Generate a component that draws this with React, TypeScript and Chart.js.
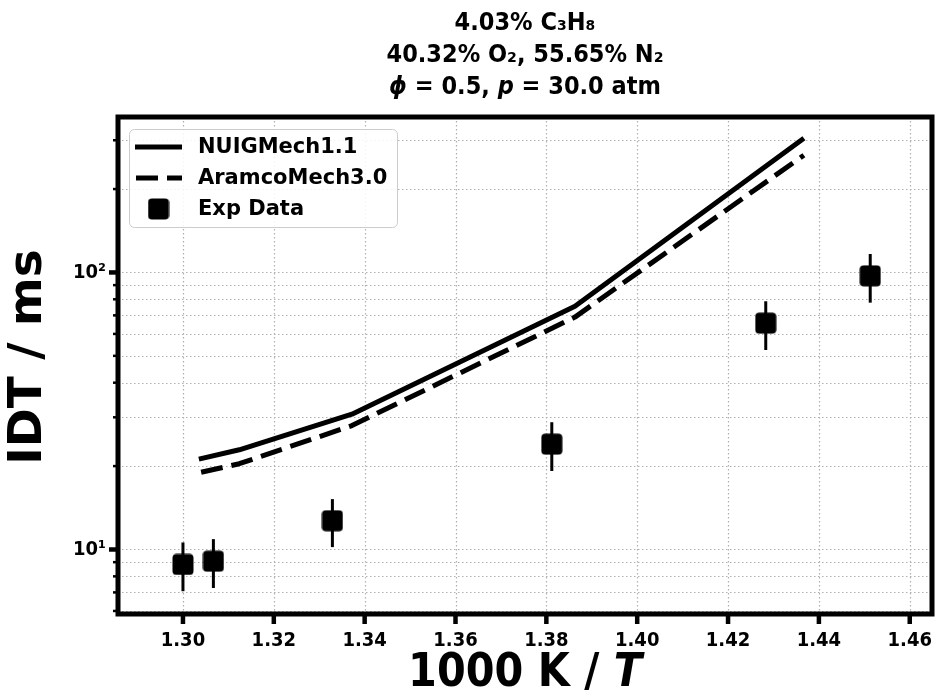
import React, { useEffect, useRef } from "react";
import { Chart, registerables } from "chart.js";

Chart.register(...registerables);

// ---- data ----
const nuigX = [1.3035, 1.3124, 1.3372, 1.3863, 1.4367];
const nuigY = [21.2, 22.9, 30.8, 75.5, 305];
const aramcoX = [1.304, 1.3124, 1.3372, 1.3863, 1.4367];
const aramcoY = [19.0, 20.4, 28.0, 69.0, 265];
const expX = [1.3, 1.3067, 1.3329, 1.3812, 1.4283, 1.4513];
const expY = [8.83, 9.07, 12.7, 24.0, 65.6, 97.2];
const expLow = [7.07, 7.26, 10.2, 19.2, 52.5, 77.8];
const expHigh = [10.6, 10.9, 15.2, 28.8, 78.7, 116.6];
const xTicks = [1.3, 1.32, 1.34, 1.36, 1.38, 1.4, 1.42, 1.44, 1.46];
const yTicks = [6, 7, 8, 9, 10, 20, 30, 40, 50, 60, 70, 80, 90, 100, 200, 300];
const yMajor = [10, 100];
const yMajorLabels = ["10\u00b9", "10\u00b2"];
const seriesNames = ["NUIGMech1.1", "AramcoMech3.0", "Exp Data"];
const titleLine1 = [{ t: "4.03% C\u2083H\u2088", i: false }];
const titleLine2 = [{ t: "40.32% O\u2082, 55.65% N\u2082", i: false }];
const titleLine3 = [
  { t: "\u03d5", i: true },
  { t: " = 0.5, ", i: false },
  { t: "p", i: true },
  { t: " = 30.0 atm", i: false },
];
const xTitle = [
  { t: "1000 K / ", i: false },
  { t: "T", i: true },
];
const yTitle = "IDT / ms";

const X_MIN = 1.2857;
const X_MAX = 1.4649;
const Y_MIN = 5.85;
const Y_MAX = 364;

const FONT = "'DejaVu Sans', sans-serif";
const CFONT = "'DejaVu Sans Condensed', 'DejaVu Sans', sans-serif";

function drawRich(
  ctx: CanvasRenderingContext2D,
  segs: { t: string; i: boolean }[],
  cx: number,
  cy: number,
  size: number,
  family: string
) {
  let total = 0;
  const widths = segs.map((s) => {
    ctx.font = `${s.i ? "italic " : ""}bold ${size}px ${family}`;
    const w = ctx.measureText(s.t).width;
    total += w;
    return w;
  });
  let x = cx - total / 2;
  ctx.textBaseline = "middle";
  ctx.textAlign = "left";
  segs.forEach((s, k) => {
    ctx.font = `${s.i ? "italic " : ""}bold ${size}px ${family}`;
    ctx.fillText(s.t, x, cy);
    x += widths[k];
  });
}

function makeMarker(size: number) {
  const c = document.createElement("canvas");
  c.width = size;
  c.height = size;
  const g = c.getContext("2d")!;
  g.fillStyle = "#000";
  g.beginPath();
  (g as any).roundRect(0.5, 0.5, size - 1, size - 1, 4);
  g.fill();
  return c;
}

export default function App() {
  const ref = useRef<HTMLCanvasElement>(null);
  useEffect(() => {
    document.body.style.margin = "0";
    const canvas = ref.current!;
    const marker = makeMarker(22);

    const customPlugin = {
      id: "custom",
      beforeDatasetsDraw(chart: any) {
        const ctx = chart.ctx as CanvasRenderingContext2D;
        const a = chart.chartArea;
        const xs = chart.scales.x;
        const ys = chart.scales.y;
        ctx.save();
        ctx.strokeStyle = "#b0b0b0";
        ctx.lineWidth = 1.2;
        ctx.setLineDash([1.5, 2.5]);
        xTicks.forEach((v) => {
          const px = Math.round(xs.getPixelForValue(v)) + 0.5;
          ctx.beginPath();
          ctx.moveTo(px, a.top);
          ctx.lineTo(px, a.bottom);
          ctx.stroke();
        });
        yTicks.forEach((v) => {
          const py = Math.round(ys.getPixelForValue(v)) + 0.5;
          ctx.beginPath();
          ctx.moveTo(a.left, py);
          ctx.lineTo(a.right, py);
          ctx.stroke();
        });
        ctx.setLineDash([]);
        // error bars
        ctx.strokeStyle = "#000";
        ctx.lineWidth = 3;
        expX.forEach((x, k) => {
          const px = xs.getPixelForValue(x);
          ctx.beginPath();
          ctx.moveTo(px, ys.getPixelForValue(expLow[k]));
          ctx.lineTo(px, ys.getPixelForValue(expHigh[k]));
          ctx.stroke();
        });
        ctx.restore();
      },
      afterDraw(chart: any) {
        const ctx = chart.ctx as CanvasRenderingContext2D;
        const a = chart.chartArea;
        const xs = chart.scales.x;
        const ys = chart.scales.y;
        ctx.save();
        // frame
        ctx.strokeStyle = "#000";
        ctx.lineWidth = 5;
        ctx.lineJoin = "miter";
        ctx.strokeRect(a.left, a.top, a.right - a.left, a.bottom - a.top);
        // x ticks
        ctx.lineWidth = 4.5;
        xTicks.forEach((v) => {
          const px = xs.getPixelForValue(v);
          ctx.beginPath();
          ctx.moveTo(px, a.bottom);
          ctx.lineTo(px, a.bottom + 10);
          ctx.stroke();
        });
        // y ticks
        yTicks.forEach((v) => {
          const py = ys.getPixelForValue(v);
          const major = yMajor.includes(v);
          ctx.lineWidth = major ? 4.5 : 2.5;
          ctx.beginPath();
          ctx.moveTo(a.left, py);
          ctx.lineTo(a.left - (major ? 9 : 5), py);
          ctx.stroke();
        });
        ctx.fillStyle = "#000";
        const cx = (a.left + a.right) / 2;
        drawRich(ctx, titleLine1, cx, 23, 25, CFONT);
        drawRich(ctx, titleLine2, cx, 55, 25, CFONT);
        drawRich(ctx, titleLine3, cx, 87, 25, CFONT);
        drawRich(ctx, xTitle, cx, 674, 46, CFONT);
        ctx.save();
        ctx.translate(29, 357);
        ctx.rotate(-Math.PI / 2);
        ctx.font = `bold 47px ${FONT}`;
        ctx.textAlign = "center";
        ctx.textBaseline = "middle";
        ctx.fillText(yTitle, 0, 0);
        ctx.restore();
        // legend
        ctx.fillStyle = "rgba(255,255,255,0.85)";
        ctx.strokeStyle = "#cccccc";
        ctx.lineWidth = 1;
        ctx.beginPath();
        (ctx as any).roundRect(129.5, 129.5, 268, 98, 5);
        ctx.fill();
        ctx.stroke();
        ctx.strokeStyle = "#000";
        ctx.lineWidth = 5;
        const rows = [147, 178, 209];
        ctx.beginPath();
        ctx.moveTo(135, rows[0]);
        ctx.lineTo(182, rows[0]);
        ctx.stroke();
        ctx.setLineDash([22, 9]);
        ctx.beginPath();
        ctx.moveTo(136, rows[1]);
        ctx.lineTo(182, rows[1]);
        ctx.stroke();
        ctx.setLineDash([]);
        ctx.drawImage(marker, 158.5 - 11, rows[2] - 11);
        ctx.fillStyle = "#000";
        ctx.font = `bold 21px ${FONT}`;
        ctx.textAlign = "left";
        ctx.textBaseline = "middle";
        seriesNames.forEach((n, k) => ctx.fillText(n, 198, rows[k] + 1));
        ctx.restore();
      },
    };

    const chart = new Chart(canvas, {
      type: "scatter",
      data: {
        datasets: [
          {
            label: seriesNames[0],
            data: nuigX.map((x, k) => ({ x, y: nuigY[k] })),
            showLine: true,
            borderColor: "#000",
            backgroundColor: "#000",
            borderWidth: 5,
            pointRadius: 0,
            borderCapStyle: "butt",
            borderJoinStyle: "round",
          },
          {
            label: seriesNames[1],
            data: aramcoX.map((x, k) => ({ x, y: aramcoY[k] })),
            showLine: true,
            borderColor: "#000",
            backgroundColor: "#000",
            borderWidth: 5,
            borderDash: [22, 9],
            pointRadius: 0,
            borderCapStyle: "butt",
            borderJoinStyle: "round",
          },
          {
            label: seriesNames[2],
            data: expX.map((x, k) => ({ x, y: expY[k] })),
            showLine: false,
            pointStyle: marker as any,
            pointRadius: 10,
            backgroundColor: "#000",
            borderColor: "#000",
          },
        ],
      },
      options: {
        animation: false,
        responsive: false,
        devicePixelRatio: 1,
        layout: { padding: { top: 117, right: 6, left: 0, bottom: 0 } },
        plugins: {
          legend: { display: false },
          title: { display: false },
          tooltip: { enabled: false },
        },
        scales: {
          x: {
            type: "linear",
            min: X_MIN,
            max: X_MAX,
            afterFit: (s: any) => {
              s.height = 697 - 614;
              s.paddingLeft = 0;
              s.paddingRight = 0;
              s.paddingTop = 0;
              s.paddingBottom = 0;
            },
            afterBuildTicks: (s: any) => {
              s.ticks = xTicks.map((v) => ({ value: v }));
            },
            ticks: {
              callback: (v: any) => Number(v).toFixed(2),
              font: { family: CFONT, weight: "bold", size: 20 },
              color: "#000",
              padding: 15,
              maxRotation: 0,
              autoSkip: false,
            },
            grid: { display: false, drawTicks: false },
            border: { display: false },
          },
          y: {
            type: "logarithmic",
            min: Y_MIN,
            max: Y_MAX,
            afterFit: (s: any) => {
              s.width = 118;
              s.paddingLeft = 0;
              s.paddingRight = 0;
              s.paddingTop = 0;
              s.paddingBottom = 0;
            },
            afterBuildTicks: (s: any) => {
              s.ticks = yTicks.map((v) => ({ value: v, major: yMajor.includes(v) }));
            },
            ticks: {
              callback: (v: any) => {
                const k = yMajor.indexOf(Number(v));
                return k >= 0 ? yMajorLabels[k] : "";
              },
              font: { family: CFONT, weight: "bold", size: 20 },
              color: "#000",
              padding: 12,
              autoSkip: false,
            },
            grid: { display: false, drawTicks: false },
            border: { display: false },
          },
        },
      },
      plugins: [customPlugin],
    } as any);
    return () => chart.destroy();
  }, []);
  return <canvas ref={ref} width={943} height={697} style={{ display: "block" }} />;
}
